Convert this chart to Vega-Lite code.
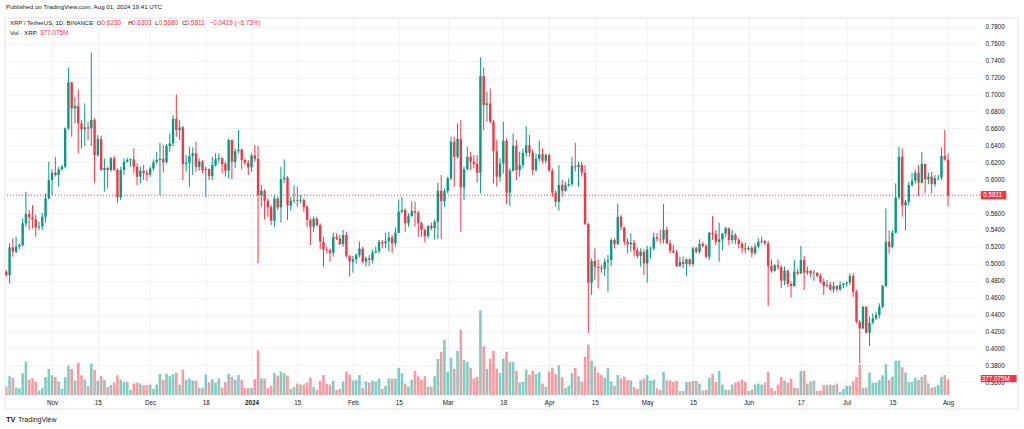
{
  "$schema": "https://vega.github.io/schema/vega-lite/v6.json",
  "width": 975,
  "height": 377,
  "autosize": {"type": "none"},
  "padding": {"left": 5, "top": 18, "right": 44, "bottom": 34},
  "background": "#ffffff",
  "config": {"view": {"stroke": null}, "font": "Liberation Sans"},
  "data": {
    "values": [
      {"t":"2023-10-18","o":0.4907,"h":0.4927,"l":0.4848,"c":0.4867,"v":200},
      {"t":"2023-10-19","o":0.4867,"h":0.5241,"l":0.4769,"c":0.5194,"v":450},
      {"t":"2023-10-20","o":0.5194,"h":0.5300,"l":0.5084,"c":0.5143,"v":414},
      {"t":"2023-10-21","o":0.5143,"h":0.5320,"l":0.5123,"c":0.5202,"v":178},
      {"t":"2023-10-22","o":0.5202,"h":0.5241,"l":0.5170,"c":0.5221,"v":164},
      {"t":"2023-10-23","o":0.5221,"h":0.5537,"l":0.5202,"c":0.5478,"v":521},
      {"t":"2023-10-24","o":0.5478,"h":0.5852,"l":0.5438,"c":0.5588,"v":793},
      {"t":"2023-10-25","o":0.5588,"h":0.5635,"l":0.5399,"c":0.5549,"v":364},
      {"t":"2023-10-26","o":0.5549,"h":0.5694,"l":0.5418,"c":0.5525,"v":400},
      {"t":"2023-10-27","o":0.5525,"h":0.5580,"l":0.5320,"c":0.5430,"v":321},
      {"t":"2023-10-28","o":0.5430,"h":0.5497,"l":0.5399,"c":0.5440,"v":107},
      {"t":"2023-10-29","o":0.5440,"h":0.5604,"l":0.5399,"c":0.5556,"v":164},
      {"t":"2023-10-30","o":0.5556,"h":0.5832,"l":0.5486,"c":0.5773,"v":428},
      {"t":"2023-10-31","o":0.5773,"h":0.6206,"l":0.5761,"c":0.5990,"v":621},
      {"t":"2023-11-01","o":0.5990,"h":0.6115,"l":0.5812,"c":0.6076,"v":471},
      {"t":"2023-11-02","o":0.6076,"h":0.6265,"l":0.6029,"c":0.6049,"v":428},
      {"t":"2023-11-03","o":0.6049,"h":0.6147,"l":0.5911,"c":0.6115,"v":321},
      {"t":"2023-11-04","o":0.6115,"h":0.6167,"l":0.6100,"c":0.6147,"v":143},
      {"t":"2023-11-05","o":0.6147,"h":0.6612,"l":0.6127,"c":0.6600,"v":428},
      {"t":"2023-11-06","o":0.6600,"h":0.7320,"l":0.6580,"c":0.7143,"v":700},
      {"t":"2023-11-07","o":0.7143,"h":0.7150,"l":0.6501,"c":0.6836,"v":621},
      {"t":"2023-11-08","o":0.6836,"h":0.6974,"l":0.6659,"c":0.6864,"v":343},
      {"t":"2023-11-09","o":0.6864,"h":0.7060,"l":0.6304,"c":0.6659,"v":771},
      {"t":"2023-11-10","o":0.6659,"h":0.6698,"l":0.6364,"c":0.6588,"v":471},
      {"t":"2023-11-11","o":0.6588,"h":0.6895,"l":0.6391,"c":0.6612,"v":371},
      {"t":"2023-11-12","o":0.6612,"h":0.6678,"l":0.6462,"c":0.6600,"v":214},
      {"t":"2023-11-13","o":0.6600,"h":0.7494,"l":0.6391,"c":0.6698,"v":750},
      {"t":"2023-11-14","o":0.6698,"h":0.6718,"l":0.5958,"c":0.6285,"v":600},
      {"t":"2023-11-15","o":0.6285,"h":0.6521,"l":0.6265,"c":0.6474,"v":343},
      {"t":"2023-11-16","o":0.6474,"h":0.6513,"l":0.6100,"c":0.6108,"v":450},
      {"t":"2023-11-17","o":0.6108,"h":0.6245,"l":0.5852,"c":0.6131,"v":364},
      {"t":"2023-11-18","o":0.6131,"h":0.6147,"l":0.5891,"c":0.6108,"v":193},
      {"t":"2023-11-19","o":0.6108,"h":0.6265,"l":0.6088,"c":0.6245,"v":236},
      {"t":"2023-11-20","o":0.6245,"h":0.6273,"l":0.6100,"c":0.6108,"v":300},
      {"t":"2023-11-21","o":0.6108,"h":0.6127,"l":0.5722,"c":0.5785,"v":471},
      {"t":"2023-11-22","o":0.5785,"h":0.6147,"l":0.5753,"c":0.6108,"v":364},
      {"t":"2023-11-23","o":0.6108,"h":0.6245,"l":0.6049,"c":0.6206,"v":307},
      {"t":"2023-11-24","o":0.6206,"h":0.6253,"l":0.6194,"c":0.6226,"v":307},
      {"t":"2023-11-25","o":0.6226,"h":0.6245,"l":0.6147,"c":0.6234,"v":121},
      {"t":"2023-11-26","o":0.6234,"h":0.6364,"l":0.6068,"c":0.6147,"v":271},
      {"t":"2023-11-27","o":0.6147,"h":0.6186,"l":0.5930,"c":0.6029,"v":293},
      {"t":"2023-11-28","o":0.6029,"h":0.6147,"l":0.5950,"c":0.6100,"v":271},
      {"t":"2023-11-29","o":0.6100,"h":0.6167,"l":0.5990,"c":0.6076,"v":236},
      {"t":"2023-11-30","o":0.6076,"h":0.6108,"l":0.5982,"c":0.6052,"v":236},
      {"t":"2023-12-01","o":0.6052,"h":0.6147,"l":0.6029,"c":0.6127,"v":250},
      {"t":"2023-12-02","o":0.6127,"h":0.6233,"l":0.6100,"c":0.6200,"v":143},
      {"t":"2023-12-03","o":0.6200,"h":0.6324,"l":0.6186,"c":0.6226,"v":250},
      {"t":"2023-12-04","o":0.6226,"h":0.6430,"l":0.5813,"c":0.6241,"v":500},
      {"t":"2023-12-05","o":0.6241,"h":0.6403,"l":0.6076,"c":0.6200,"v":364},
      {"t":"2023-12-06","o":0.6200,"h":0.6415,"l":0.6186,"c":0.6391,"v":507},
      {"t":"2023-12-07","o":0.6391,"h":0.6540,"l":0.6324,"c":0.6423,"v":450},
      {"t":"2023-12-08","o":0.6423,"h":0.6757,"l":0.6391,"c":0.6714,"v":500},
      {"t":"2023-12-09","o":0.6714,"h":0.7001,"l":0.6501,"c":0.6580,"v":535},
      {"t":"2023-12-10","o":0.6580,"h":0.6698,"l":0.6462,"c":0.6612,"v":250},
      {"t":"2023-12-11","o":0.6612,"h":0.6630,"l":0.5990,"c":0.6179,"v":607},
      {"t":"2023-12-12","o":0.6179,"h":0.6285,"l":0.6088,"c":0.6194,"v":364},
      {"t":"2023-12-13","o":0.6194,"h":0.6383,"l":0.5911,"c":0.6273,"v":393},
      {"t":"2023-12-14","o":0.6273,"h":0.6375,"l":0.6049,"c":0.6305,"v":343},
      {"t":"2023-12-15","o":0.6305,"h":0.6442,"l":0.6088,"c":0.6147,"v":343},
      {"t":"2023-12-16","o":0.6147,"h":0.6245,"l":0.6100,"c":0.6206,"v":164},
      {"t":"2023-12-17","o":0.6206,"h":0.6226,"l":0.6068,"c":0.6108,"v":178},
      {"t":"2023-12-18","o":0.6108,"h":0.6147,"l":0.5785,"c":0.6120,"v":486},
      {"t":"2023-12-19","o":0.6120,"h":0.6127,"l":0.5990,"c":0.6037,"v":307},
      {"t":"2023-12-20","o":0.6037,"h":0.6265,"l":0.5990,"c":0.6167,"v":378},
      {"t":"2023-12-21","o":0.6167,"h":0.6304,"l":0.6147,"c":0.6237,"v":293},
      {"t":"2023-12-22","o":0.6237,"h":0.6304,"l":0.6194,"c":0.6250,"v":393},
      {"t":"2023-12-23","o":0.6250,"h":0.6257,"l":0.6068,"c":0.6179,"v":178},
      {"t":"2023-12-24","o":0.6179,"h":0.6206,"l":0.6029,"c":0.6100,"v":307},
      {"t":"2023-12-25","o":0.6100,"h":0.6482,"l":0.6009,"c":0.6462,"v":507},
      {"t":"2023-12-26","o":0.6462,"h":0.6470,"l":0.5998,"c":0.6206,"v":436},
      {"t":"2023-12-27","o":0.6206,"h":0.6364,"l":0.6127,"c":0.6330,"v":364},
      {"t":"2023-12-28","o":0.6330,"h":0.6580,"l":0.6304,"c":0.6350,"v":478},
      {"t":"2023-12-29","o":0.6350,"h":0.6364,"l":0.6115,"c":0.6226,"v":357},
      {"t":"2023-12-30","o":0.6226,"h":0.6245,"l":0.6167,"c":0.6195,"v":164},
      {"t":"2023-12-31","o":0.6195,"h":0.6226,"l":0.6049,"c":0.6140,"v":164},
      {"t":"2024-01-01","o":0.6140,"h":0.6304,"l":0.6088,"c":0.6280,"v":164},
      {"t":"2024-01-02","o":0.6280,"h":0.6403,"l":0.6206,"c":0.6240,"v":378},
      {"t":"2024-01-03","o":0.6240,"h":0.6391,"l":0.5005,"c":0.5812,"v":1071},
      {"t":"2024-01-04","o":0.5812,"h":0.5930,"l":0.5675,"c":0.5863,"v":393},
      {"t":"2024-01-05","o":0.5863,"h":0.5880,"l":0.5525,"c":0.5745,"v":393},
      {"t":"2024-01-06","o":0.5745,"h":0.5773,"l":0.5556,"c":0.5670,"v":164},
      {"t":"2024-01-07","o":0.5670,"h":0.5694,"l":0.5455,"c":0.5510,"v":221},
      {"t":"2024-01-08","o":0.5510,"h":0.5812,"l":0.5438,"c":0.5770,"v":521},
      {"t":"2024-01-09","o":0.5770,"h":0.5793,"l":0.5635,"c":0.5667,"v":464},
      {"t":"2024-01-10","o":0.5667,"h":0.6147,"l":0.5486,"c":0.6000,"v":557},
      {"t":"2024-01-11","o":0.6000,"h":0.6234,"l":0.5950,"c":0.6017,"v":521},
      {"t":"2024-01-12","o":0.6017,"h":0.6037,"l":0.5517,"c":0.5686,"v":464},
      {"t":"2024-01-13","o":0.5686,"h":0.5793,"l":0.5627,"c":0.5745,"v":143},
      {"t":"2024-01-14","o":0.5745,"h":0.5927,"l":0.5714,"c":0.5753,"v":193},
      {"t":"2024-01-15","o":0.5753,"h":0.5911,"l":0.5675,"c":0.5745,"v":271},
      {"t":"2024-01-16","o":0.5745,"h":0.5812,"l":0.5714,"c":0.5753,"v":250},
      {"t":"2024-01-17","o":0.5753,"h":0.5773,"l":0.5616,"c":0.5670,"v":250},
      {"t":"2024-01-18","o":0.5670,"h":0.5694,"l":0.5438,"c":0.5517,"v":293},
      {"t":"2024-01-19","o":0.5517,"h":0.5537,"l":0.5222,"c":0.5438,"v":414},
      {"t":"2024-01-20","o":0.5438,"h":0.5556,"l":0.5379,"c":0.5533,"v":193},
      {"t":"2024-01-21","o":0.5533,"h":0.5549,"l":0.5438,"c":0.5458,"v":121},
      {"t":"2024-01-22","o":0.5458,"h":0.5478,"l":0.5171,"c":0.5261,"v":343},
      {"t":"2024-01-23","o":0.5261,"h":0.5320,"l":0.4966,"c":0.5170,"v":478},
      {"t":"2024-01-24","o":0.5170,"h":0.5202,"l":0.5123,"c":0.5162,"v":264},
      {"t":"2024-01-25","o":0.5162,"h":0.5183,"l":0.5025,"c":0.5130,"v":250},
      {"t":"2024-01-26","o":0.5130,"h":0.5368,"l":0.5084,"c":0.5320,"v":343},
      {"t":"2024-01-27","o":0.5320,"h":0.5360,"l":0.5281,"c":0.5300,"v":121},
      {"t":"2024-01-28","o":0.5300,"h":0.5340,"l":0.5222,"c":0.5234,"v":143},
      {"t":"2024-01-29","o":0.5234,"h":0.5399,"l":0.5202,"c":0.5340,"v":321},
      {"t":"2024-01-30","o":0.5340,"h":0.5379,"l":0.5076,"c":0.5090,"v":557},
      {"t":"2024-01-31","o":0.5090,"h":0.5104,"l":0.4848,"c":0.5025,"v":486},
      {"t":"2024-02-01","o":0.5025,"h":0.5092,"l":0.4895,"c":0.5053,"v":343},
      {"t":"2024-02-02","o":0.5053,"h":0.5123,"l":0.5005,"c":0.5104,"v":364},
      {"t":"2024-02-03","o":0.5104,"h":0.5261,"l":0.5076,"c":0.5180,"v":478},
      {"t":"2024-02-04","o":0.5180,"h":0.5202,"l":0.5005,"c":0.5025,"v":164},
      {"t":"2024-02-05","o":0.5025,"h":0.5084,"l":0.4966,"c":0.5064,"v":321},
      {"t":"2024-02-06","o":0.5064,"h":0.5104,"l":0.4974,"c":0.5045,"v":293},
      {"t":"2024-02-07","o":0.5045,"h":0.5163,"l":0.5005,"c":0.5135,"v":343},
      {"t":"2024-02-08","o":0.5135,"h":0.5202,"l":0.5123,"c":0.5150,"v":321},
      {"t":"2024-02-09","o":0.5150,"h":0.5281,"l":0.5123,"c":0.5257,"v":393},
      {"t":"2024-02-10","o":0.5257,"h":0.5281,"l":0.5183,"c":0.5241,"v":143},
      {"t":"2024-02-11","o":0.5241,"h":0.5367,"l":0.5183,"c":0.5265,"v":221},
      {"t":"2024-02-12","o":0.5265,"h":0.5379,"l":0.5143,"c":0.5312,"v":393},
      {"t":"2024-02-13","o":0.5312,"h":0.5340,"l":0.5131,"c":0.5241,"v":393},
      {"t":"2024-02-14","o":0.5241,"h":0.5430,"l":0.5202,"c":0.5367,"v":393},
      {"t":"2024-02-15","o":0.5367,"h":0.5761,"l":0.5360,"c":0.5615,"v":650},
      {"t":"2024-02-16","o":0.5615,"h":0.5793,"l":0.5596,"c":0.5635,"v":521},
      {"t":"2024-02-17","o":0.5635,"h":0.5655,"l":0.5379,"c":0.5480,"v":271},
      {"t":"2024-02-18","o":0.5480,"h":0.5596,"l":0.5438,"c":0.5564,"v":200},
      {"t":"2024-02-19","o":0.5564,"h":0.5734,"l":0.5556,"c":0.5623,"v":364},
      {"t":"2024-02-20","o":0.5623,"h":0.5734,"l":0.5438,"c":0.5604,"v":578},
      {"t":"2024-02-21","o":0.5604,"h":0.5627,"l":0.5320,"c":0.5480,"v":450},
      {"t":"2024-02-22","o":0.5480,"h":0.5497,"l":0.5320,"c":0.5399,"v":364},
      {"t":"2024-02-23","o":0.5399,"h":0.5418,"l":0.5253,"c":0.5328,"v":450},
      {"t":"2024-02-24","o":0.5328,"h":0.5458,"l":0.5301,"c":0.5446,"v":200},
      {"t":"2024-02-25","o":0.5446,"h":0.5486,"l":0.5399,"c":0.5419,"v":200},
      {"t":"2024-02-26","o":0.5419,"h":0.5517,"l":0.5289,"c":0.5497,"v":450},
      {"t":"2024-02-27","o":0.5497,"h":0.5958,"l":0.5293,"c":0.5863,"v":857},
      {"t":"2024-02-28","o":0.5863,"h":0.6049,"l":0.5293,"c":0.5740,"v":1035},
      {"t":"2024-02-29","o":0.5740,"h":0.5891,"l":0.5675,"c":0.5860,"v":1321},
      {"t":"2024-03-01","o":0.5860,"h":0.6029,"l":0.5832,"c":0.6010,"v":557},
      {"t":"2024-03-02","o":0.6010,"h":0.6501,"l":0.5990,"c":0.6442,"v":893},
      {"t":"2024-03-03","o":0.6442,"h":0.6501,"l":0.5911,"c":0.6265,"v":628},
      {"t":"2024-03-04","o":0.6265,"h":0.6659,"l":0.6245,"c":0.6474,"v":1057},
      {"t":"2024-03-05","o":0.6474,"h":0.6698,"l":0.5379,"c":0.5903,"v":1557},
      {"t":"2024-03-06","o":0.5903,"h":0.6147,"l":0.5753,"c":0.6120,"v":836},
      {"t":"2024-03-07","o":0.6120,"h":0.6383,"l":0.6108,"c":0.6265,"v":786},
      {"t":"2024-03-08","o":0.6265,"h":0.6324,"l":0.6108,"c":0.6206,"v":650},
      {"t":"2024-03-09","o":0.6206,"h":0.6285,"l":0.6127,"c":0.6180,"v":393},
      {"t":"2024-03-10","o":0.6180,"h":0.6285,"l":0.5958,"c":0.6076,"v":428},
      {"t":"2024-03-11","o":0.6076,"h":0.7438,"l":0.5832,"c":0.7218,"v":2021},
      {"t":"2024-03-12","o":0.7218,"h":0.7320,"l":0.6580,"c":0.6875,"v":1164},
      {"t":"2024-03-13","o":0.6875,"h":0.7033,"l":0.6679,"c":0.6895,"v":628},
      {"t":"2024-03-14","o":0.6895,"h":0.7072,"l":0.6659,"c":0.6680,"v":864},
      {"t":"2024-03-15","o":0.6680,"h":0.6698,"l":0.5950,"c":0.6330,"v":1050},
      {"t":"2024-03-16","o":0.6330,"h":0.6462,"l":0.5911,"c":0.6029,"v":628},
      {"t":"2024-03-17","o":0.6029,"h":0.6245,"l":0.5970,"c":0.6186,"v":521},
      {"t":"2024-03-18","o":0.6186,"h":0.6680,"l":0.6068,"c":0.6454,"v":864},
      {"t":"2024-03-19","o":0.6454,"h":0.6482,"l":0.5706,"c":0.5840,"v":1035},
      {"t":"2024-03-20","o":0.5840,"h":0.6127,"l":0.5682,"c":0.6100,"v":793},
      {"t":"2024-03-21","o":0.6100,"h":0.6540,"l":0.6088,"c":0.6395,"v":793},
      {"t":"2024-03-22","o":0.6395,"h":0.6462,"l":0.5990,"c":0.6108,"v":578},
      {"t":"2024-03-23","o":0.6108,"h":0.6324,"l":0.6029,"c":0.6167,"v":293},
      {"t":"2024-03-24","o":0.6167,"h":0.6364,"l":0.6127,"c":0.6310,"v":307},
      {"t":"2024-03-25","o":0.6310,"h":0.6627,"l":0.6265,"c":0.6399,"v":607},
      {"t":"2024-03-26","o":0.6399,"h":0.6521,"l":0.6265,"c":0.6312,"v":486},
      {"t":"2024-03-27","o":0.6312,"h":0.6344,"l":0.6049,"c":0.6108,"v":578},
      {"t":"2024-03-28","o":0.6108,"h":0.6304,"l":0.6088,"c":0.6240,"v":500},
      {"t":"2024-03-29","o":0.6240,"h":0.6454,"l":0.6206,"c":0.6293,"v":543},
      {"t":"2024-03-30","o":0.6293,"h":0.6364,"l":0.6186,"c":0.6218,"v":271},
      {"t":"2024-03-31","o":0.6218,"h":0.6304,"l":0.6186,"c":0.6285,"v":193},
      {"t":"2024-04-01","o":0.6285,"h":0.6304,"l":0.6088,"c":0.6100,"v":557},
      {"t":"2024-04-02","o":0.6100,"h":0.6127,"l":0.5793,"c":0.5840,"v":650},
      {"t":"2024-04-03","o":0.5840,"h":0.5871,"l":0.5675,"c":0.5733,"v":493},
      {"t":"2024-04-04","o":0.5733,"h":0.6167,"l":0.5627,"c":0.5930,"v":707},
      {"t":"2024-04-05","o":0.5930,"h":0.5990,"l":0.5793,"c":0.5863,"v":428},
      {"t":"2024-04-06","o":0.5863,"h":0.5970,"l":0.5852,"c":0.5930,"v":164},
      {"t":"2024-04-07","o":0.5930,"h":0.6009,"l":0.5911,"c":0.5942,"v":221},
      {"t":"2024-04-08","o":0.5942,"h":0.6265,"l":0.5919,"c":0.6155,"v":521},
      {"t":"2024-04-09","o":0.6155,"h":0.6430,"l":0.6088,"c":0.6143,"v":650},
      {"t":"2024-04-10","o":0.6143,"h":0.6206,"l":0.5911,"c":0.6167,"v":450},
      {"t":"2024-04-11","o":0.6167,"h":0.6210,"l":0.6029,"c":0.6076,"v":321},
      {"t":"2024-04-12","o":0.6076,"h":0.6167,"l":0.5458,"c":0.5470,"v":907},
      {"t":"2024-04-13","o":0.5470,"h":0.5486,"l":0.4186,"c":0.4777,"v":1200},
      {"t":"2024-04-14","o":0.4777,"h":0.5064,"l":0.4631,"c":0.5033,"v":821},
      {"t":"2024-04-15","o":0.5033,"h":0.5182,"l":0.4808,"c":0.4966,"v":678},
      {"t":"2024-04-16","o":0.4966,"h":0.5045,"l":0.4710,"c":0.4950,"v":535},
      {"t":"2024-04-17","o":0.4950,"h":0.4986,"l":0.4895,"c":0.4942,"v":486},
      {"t":"2024-04-18","o":0.4942,"h":0.5064,"l":0.4856,"c":0.5025,"v":414},
      {"t":"2024-04-19","o":0.5025,"h":0.5104,"l":0.4670,"c":0.5045,"v":650},
      {"t":"2024-04-20","o":0.5045,"h":0.5301,"l":0.4974,"c":0.5281,"v":321},
      {"t":"2024-04-21","o":0.5281,"h":0.5301,"l":0.5182,"c":0.5234,"v":214},
      {"t":"2024-04-22","o":0.5234,"h":0.5714,"l":0.5222,"c":0.5556,"v":478},
      {"t":"2024-04-23","o":0.5556,"h":0.5576,"l":0.5399,"c":0.5430,"v":393},
      {"t":"2024-04-24","o":0.5430,"h":0.5438,"l":0.5222,"c":0.5261,"v":436},
      {"t":"2024-04-25","o":0.5261,"h":0.5301,"l":0.5123,"c":0.5230,"v":364},
      {"t":"2024-04-26","o":0.5230,"h":0.5360,"l":0.5143,"c":0.5250,"v":350},
      {"t":"2024-04-27","o":0.5250,"h":0.5281,"l":0.5084,"c":0.5160,"v":193},
      {"t":"2024-04-28","o":0.5160,"h":0.5194,"l":0.5064,"c":0.5092,"v":143},
      {"t":"2024-04-29","o":0.5092,"h":0.5183,"l":0.4966,"c":0.5143,"v":350},
      {"t":"2024-04-30","o":0.5143,"h":0.5171,"l":0.4867,"c":0.5005,"v":393},
      {"t":"2024-05-01","o":0.5005,"h":0.5210,"l":0.4777,"c":0.5170,"v":478},
      {"t":"2024-05-02","o":0.5170,"h":0.5202,"l":0.5064,"c":0.5180,"v":343},
      {"t":"2024-05-03","o":0.5180,"h":0.5367,"l":0.5163,"c":0.5312,"v":357},
      {"t":"2024-05-04","o":0.5312,"h":0.5360,"l":0.5261,"c":0.5293,"v":164},
      {"t":"2024-05-05","o":0.5293,"h":0.5399,"l":0.5241,"c":0.5288,"v":121},
      {"t":"2024-05-06","o":0.5288,"h":0.5706,"l":0.5241,"c":0.5400,"v":557},
      {"t":"2024-05-07","o":0.5400,"h":0.5438,"l":0.5233,"c":0.5241,"v":350},
      {"t":"2024-05-08","o":0.5241,"h":0.5281,"l":0.5123,"c":0.5155,"v":350},
      {"t":"2024-05-09","o":0.5155,"h":0.5222,"l":0.5123,"c":0.5135,"v":307},
      {"t":"2024-05-10","o":0.5135,"h":0.5163,"l":0.4966,"c":0.4973,"v":336},
      {"t":"2024-05-11","o":0.4973,"h":0.5084,"l":0.4958,"c":0.5020,"v":93},
      {"t":"2024-05-12","o":0.5020,"h":0.5084,"l":0.4946,"c":0.4997,"v":93},
      {"t":"2024-05-13","o":0.4997,"h":0.5064,"l":0.4856,"c":0.5053,"v":307},
      {"t":"2024-05-14","o":0.5053,"h":0.5064,"l":0.4970,"c":0.4997,"v":307},
      {"t":"2024-05-15","o":0.4997,"h":0.5202,"l":0.4966,"c":0.5183,"v":336},
      {"t":"2024-05-16","o":0.5183,"h":0.5202,"l":0.5123,"c":0.5143,"v":336},
      {"t":"2024-05-17","o":0.5143,"h":0.5289,"l":0.5123,"c":0.5234,"v":271},
      {"t":"2024-05-18","o":0.5234,"h":0.5261,"l":0.5194,"c":0.5210,"v":107},
      {"t":"2024-05-19","o":0.5210,"h":0.5233,"l":0.5064,"c":0.5084,"v":121},
      {"t":"2024-05-20","o":0.5084,"h":0.5379,"l":0.5045,"c":0.5367,"v":414},
      {"t":"2024-05-21","o":0.5367,"h":0.5564,"l":0.5281,"c":0.5352,"v":500},
      {"t":"2024-05-22","o":0.5352,"h":0.5399,"l":0.5222,"c":0.5260,"v":307},
      {"t":"2024-05-23","o":0.5260,"h":0.5486,"l":0.5025,"c":0.5288,"v":578},
      {"t":"2024-05-24","o":0.5288,"h":0.5360,"l":0.5163,"c":0.5359,"v":250},
      {"t":"2024-05-25","o":0.5359,"h":0.5438,"l":0.5320,"c":0.5420,"v":128},
      {"t":"2024-05-26","o":0.5420,"h":0.5430,"l":0.5222,"c":0.5281,"v":121},
      {"t":"2024-05-27","o":0.5281,"h":0.5399,"l":0.5241,"c":0.5340,"v":250},
      {"t":"2024-05-28","o":0.5340,"h":0.5360,"l":0.5233,"c":0.5281,"v":293},
      {"t":"2024-05-29","o":0.5281,"h":0.5301,"l":0.5183,"c":0.5234,"v":321},
      {"t":"2024-05-30","o":0.5234,"h":0.5261,"l":0.5123,"c":0.5182,"v":364},
      {"t":"2024-05-31","o":0.5182,"h":0.5249,"l":0.5123,"c":0.5170,"v":307},
      {"t":"2024-06-01","o":0.5170,"h":0.5210,"l":0.5155,"c":0.5186,"v":93},
      {"t":"2024-06-02","o":0.5186,"h":0.5210,"l":0.5076,"c":0.5130,"v":128},
      {"t":"2024-06-03","o":0.5130,"h":0.5241,"l":0.5104,"c":0.5202,"v":250},
      {"t":"2024-06-04","o":0.5202,"h":0.5301,"l":0.5183,"c":0.5260,"v":271},
      {"t":"2024-06-05","o":0.5260,"h":0.5320,"l":0.5241,"c":0.5269,"v":250},
      {"t":"2024-06-06","o":0.5269,"h":0.5281,"l":0.5222,"c":0.5241,"v":293},
      {"t":"2024-06-07","o":0.5241,"h":0.5273,"l":0.4501,"c":0.4974,"v":557},
      {"t":"2024-06-08","o":0.4974,"h":0.5053,"l":0.4895,"c":0.4918,"v":164},
      {"t":"2024-06-09","o":0.4918,"h":0.4997,"l":0.4907,"c":0.4982,"v":93},
      {"t":"2024-06-10","o":0.4982,"h":0.5053,"l":0.4927,"c":0.4958,"v":250},
      {"t":"2024-06-11","o":0.4958,"h":0.4986,"l":0.4710,"c":0.4801,"v":436},
      {"t":"2024-06-12","o":0.4801,"h":0.4966,"l":0.4749,"c":0.4919,"v":343},
      {"t":"2024-06-13","o":0.4919,"h":0.4934,"l":0.4730,"c":0.4761,"v":293},
      {"t":"2024-06-14","o":0.4761,"h":0.4789,"l":0.4604,"c":0.4737,"v":393},
      {"t":"2024-06-15","o":0.4737,"h":0.5045,"l":0.4730,"c":0.4907,"v":178},
      {"t":"2024-06-16","o":0.4907,"h":0.4934,"l":0.4867,"c":0.4887,"v":164},
      {"t":"2024-06-17","o":0.4887,"h":0.5210,"l":0.4879,"c":0.5045,"v":578},
      {"t":"2024-06-18","o":0.5045,"h":0.5092,"l":0.4690,"c":0.4895,"v":578},
      {"t":"2024-06-19","o":0.4895,"h":0.4966,"l":0.4868,"c":0.4915,"v":271},
      {"t":"2024-06-20","o":0.4915,"h":0.4927,"l":0.4840,"c":0.4887,"v":321},
      {"t":"2024-06-21","o":0.4887,"h":0.4927,"l":0.4800,"c":0.4895,"v":343},
      {"t":"2024-06-22","o":0.4895,"h":0.4899,"l":0.4840,"c":0.4856,"v":93},
      {"t":"2024-06-23","o":0.4856,"h":0.4887,"l":0.4769,"c":0.4789,"v":107},
      {"t":"2024-06-24","o":0.4789,"h":0.4828,"l":0.4631,"c":0.4737,"v":236},
      {"t":"2024-06-25","o":0.4737,"h":0.4808,"l":0.4721,"c":0.4749,"v":236},
      {"t":"2024-06-26","o":0.4749,"h":0.4789,"l":0.4682,"c":0.4698,"v":250},
      {"t":"2024-06-27","o":0.4698,"h":0.4789,"l":0.4659,"c":0.4737,"v":236},
      {"t":"2024-06-28","o":0.4737,"h":0.4749,"l":0.4680,"c":0.4698,"v":271},
      {"t":"2024-06-29","o":0.4698,"h":0.4789,"l":0.4682,"c":0.4749,"v":71},
      {"t":"2024-06-30","o":0.4749,"h":0.4777,"l":0.4710,"c":0.4765,"v":150},
      {"t":"2024-07-01","o":0.4765,"h":0.4789,"l":0.4730,"c":0.4781,"v":214},
      {"t":"2024-07-02","o":0.4781,"h":0.4887,"l":0.4749,"c":0.4856,"v":221},
      {"t":"2024-07-03","o":0.4856,"h":0.4887,"l":0.4604,"c":0.4670,"v":321},
      {"t":"2024-07-04","o":0.4670,"h":0.4690,"l":0.4297,"c":0.4316,"v":436},
      {"t":"2024-07-05","o":0.4316,"h":0.4336,"l":0.3824,"c":0.4237,"v":721},
      {"t":"2024-07-06","o":0.4237,"h":0.4501,"l":0.4226,"c":0.4493,"v":164},
      {"t":"2024-07-07","o":0.4493,"h":0.4501,"l":0.4178,"c":0.4186,"v":178},
      {"t":"2024-07-08","o":0.4186,"h":0.4375,"l":0.4029,"c":0.4304,"v":535},
      {"t":"2024-07-09","o":0.4304,"h":0.4415,"l":0.4289,"c":0.4355,"v":293},
      {"t":"2024-07-10","o":0.4355,"h":0.4435,"l":0.4336,"c":0.4395,"v":293},
      {"t":"2024-07-11","o":0.4395,"h":0.4533,"l":0.4356,"c":0.4493,"v":357},
      {"t":"2024-07-12","o":0.4493,"h":0.4749,"l":0.4474,"c":0.4737,"v":471},
      {"t":"2024-07-13","o":0.4737,"h":0.5655,"l":0.4730,"c":0.5260,"v":736},
      {"t":"2024-07-14","o":0.5260,"h":0.5392,"l":0.5123,"c":0.5200,"v":357},
      {"t":"2024-07-15","o":0.5200,"h":0.5399,"l":0.5183,"c":0.5367,"v":436},
      {"t":"2024-07-16","o":0.5367,"h":0.5950,"l":0.5360,"c":0.5785,"v":821},
      {"t":"2024-07-17","o":0.5785,"h":0.6383,"l":0.5761,"c":0.6265,"v":821},
      {"t":"2024-07-18","o":0.6265,"h":0.6364,"l":0.5556,"c":0.5690,"v":664},
      {"t":"2024-07-19","o":0.5690,"h":0.5753,"l":0.5399,"c":0.5733,"v":535},
      {"t":"2024-07-20","o":0.5733,"h":0.5970,"l":0.5694,"c":0.5931,"v":307},
      {"t":"2024-07-21","o":0.5931,"h":0.6076,"l":0.5911,"c":0.5982,"v":307},
      {"t":"2024-07-22","o":0.5982,"h":0.6108,"l":0.5950,"c":0.6076,"v":414},
      {"t":"2024-07-23","o":0.6076,"h":0.6167,"l":0.5800,"c":0.5958,"v":357},
      {"t":"2024-07-24","o":0.5958,"h":0.6324,"l":0.5950,"c":0.6179,"v":436},
      {"t":"2024-07-25","o":0.6179,"h":0.6186,"l":0.5832,"c":0.5998,"v":478},
      {"t":"2024-07-26","o":0.5998,"h":0.6076,"l":0.5942,"c":0.6030,"v":271},
      {"t":"2024-07-27","o":0.6030,"h":0.6088,"l":0.5832,"c":0.5942,"v":178},
      {"t":"2024-07-28","o":0.5942,"h":0.6049,"l":0.5911,"c":0.6010,"v":193},
      {"t":"2024-07-29","o":0.6010,"h":0.6049,"l":0.5990,"c":0.6017,"v":236},
      {"t":"2024-07-30","o":0.6017,"h":0.6375,"l":0.5990,"c":0.6273,"v":436},
      {"t":"2024-07-31","o":0.6273,"h":0.6580,"l":0.6218,"c":0.6230,"v":478},
      {"t":"2024-08-01","o":0.6230,"h":0.6303,"l":0.5680,"c":0.5811,"v":377.075}
    ]
  },
  "layer": [
    {
      "layer": [
        {
          "mark": {"type": "bar", "size": 2.6, "opacity": 0.5},
          "encoding": {
            "x": {"field": "t", "type": "temporal"},
            "y": {"field": "v", "type": "quantitative", "scale": {"domain": [0, 8080]}, "axis": null},
            "color": {"condition": {"test": "datum.c < datum.o", "value": "#f23645"}, "value": "#089981"}
          }
        },
        {
          "data": {"values": [{}]},
          "mark": {"type": "rect", "color": "#f23645"},
          "encoding": {
            "x": {"datum": {"year": 2024, "month": 8, "date": 11, "hours": 0, "minutes": 6, "utc": true}, "type": "temporal"},
            "x2": {"datum": {"year": 2024, "month": 8, "date": 22, "hours": 0, "minutes": 6, "utc": true}},
            "y": {"datum": 478, "type": "quantitative"},
            "y2": {"datum": 306}
          }
        },
        {
          "data": {"values": [{}]},
          "mark": {"type": "text", "align": "left", "baseline": "middle", "dx": 1, "fontSize": 6.3, "color": "#ffffff"},
          "encoding": {
            "x": {"datum": {"year": 2024, "month": 8, "date": 11, "hours": 0, "minutes": 6, "utc": true}, "type": "temporal"},
            "y": {"datum": 392, "type": "quantitative"},
            "text": {"value": "377.075M"}
          }
        }
      ]
    },
    {
      "layer": [
        {
          "data": {"values": [{}]},
          "mark": {"type": "rect", "fill": null, "stroke": "#e0e3eb", "strokeWidth": 1},
          "encoding": {
            "x": {"datum": {"year": 2023, "month": 10, "date": 17, "hours": 14, "minutes": 30, "utc": true}, "type": "temporal"},
            "x2": {"datum": {"year": 2024, "month": 8, "date": 22, "hours": 9, "minutes": 40, "utc": true}},
            "y": {"datum": 0.7904, "type": "quantitative"},
            "y2": {"datum": 0.3284}
          }
        },
        {
          "data": {"values": [{}]},
          "mark": {"type": "rule", "color": "#f23645", "strokeDash": [1, 2], "strokeWidth": 1},
          "encoding": {"y": {"datum": 0.5811, "type": "quantitative"}}
        },
        {
          "mark": {"type": "rule", "strokeWidth": 1},
          "encoding": {
            "x": {
              "field": "t",
              "type": "temporal",
              "scale": {
                "type": "utc",
                "padding": 0,
                "domain": [
                  {"year": 2023, "month": 10, "date": 17, "hours": 14, "minutes": 30, "utc": true},
                  {"year": 2024, "month": 8, "date": 10, "hours": 18, "minutes": 48, "utc": true}
                ]
              },
              "axis": {
                "title": null,
                "values": [
                  {"year": 2023, "month": 11, "date": 1, "utc": true},
                  {"year": 2023, "month": 11, "date": 15, "utc": true},
                  {"year": 2023, "month": 12, "date": 1, "utc": true},
                  {"year": 2023, "month": 12, "date": 18, "utc": true},
                  {"year": 2024, "month": 1, "date": 1, "utc": true},
                  {"year": 2024, "month": 1, "date": 15, "utc": true},
                  {"year": 2024, "month": 2, "date": 1, "utc": true},
                  {"year": 2024, "month": 2, "date": 15, "utc": true},
                  {"year": 2024, "month": 3, "date": 1, "utc": true},
                  {"year": 2024, "month": 3, "date": 18, "utc": true},
                  {"year": 2024, "month": 4, "date": 1, "utc": true},
                  {"year": 2024, "month": 4, "date": 15, "utc": true},
                  {"year": 2024, "month": 5, "date": 1, "utc": true},
                  {"year": 2024, "month": 5, "date": 15, "utc": true},
                  {"year": 2024, "month": 6, "date": 1, "utc": true},
                  {"year": 2024, "month": 6, "date": 17, "utc": true},
                  {"year": 2024, "month": 7, "date": 1, "utc": true},
                  {"year": 2024, "month": 7, "date": 15, "utc": true},
                  {"year": 2024, "month": 8, "date": 1, "utc": true}
                ],
                "tickCount": 40,
                "labelExpr": "utcdate(datum.value) == 1 ? (utcmonth(datum.value) == 0 ? utcFormat(datum.value, '%Y') : utcFormat(datum.value, '%b')) : utcFormat(datum.value, '%-d')",
                "labelFontWeight": {"condition": {"test": "utcmonth(datum.value) == 0 && utcdate(datum.value) == 1", "value": "bold"}, "value": "normal"},
                "grid": true,
                "gridColor": "#f0f3fa",
                "ticks": false,
                "domain": false,
                "labelFontSize": 6.3,
                "labelColor": "#131722",
                "labelPadding": 4,
                "labelFlush": false,
                "labelOverlap": false
              }
            },
            "y": {
              "field": "l",
              "type": "quantitative",
              "scale": {"domain": [0.345, 0.7904], "zero": false, "nice": false},
              "axis": {
                "title": null,
                "orient": "right",
                "values": [0.36, 0.38, 0.40, 0.42, 0.44, 0.46, 0.48, 0.50, 0.52, 0.54, 0.56, 0.60, 0.62, 0.64, 0.66, 0.68, 0.70, 0.72, 0.74, 0.76, 0.78],
                "tickCount": 40,
                "format": ".4f",
                "grid": true,
                "gridColor": "#f0f3fa",
                "ticks": false,
                "domain": false,
                "labelFontSize": 6.3,
                "labelColor": "#131722",
                "labelPadding": 5,
                "labelOverlap": false
              }
            },
            "y2": {"field": "h"},
            "color": {"condition": {"test": "datum.c < datum.o", "value": "#f23645"}, "value": "#089981"}
          }
        },
        {
          "mark": {"type": "bar", "size": 2.4},
          "encoding": {
            "x": {"field": "t", "type": "temporal"},
            "y": {"field": "o", "type": "quantitative", "title": null},
            "y2": {"field": "c"},
            "color": {"condition": {"test": "datum.c < datum.o", "value": "#f23645"}, "value": "#089981"}
          }
        },
        {
          "data": {"values": [{}]},
          "mark": {"type": "rect", "color": "#f23645"},
          "encoding": {
            "x": {"datum": {"year": 2024, "month": 8, "date": 11, "hours": 0, "minutes": 6, "utc": true}, "type": "temporal"},
            "x2": {"datum": {"year": 2024, "month": 8, "date": 18, "hours": 19, "minutes": 48, "utc": true}},
            "y": {"datum": 0.5860, "type": "quantitative"},
            "y2": {"datum": 0.5762}
          }
        },
        {
          "data": {"values": [{}]},
          "mark": {"type": "text", "align": "left", "baseline": "middle", "dx": 2.5, "fontSize": 6.3, "color": "#ffffff"},
          "encoding": {
            "x": {"datum": {"year": 2024, "month": 8, "date": 11, "hours": 0, "minutes": 6, "utc": true}, "type": "temporal"},
            "y": {"datum": 0.5811, "type": "quantitative"},
            "text": {"value": "0.5811"}
          }
        },
        {
          "data": {"values": [{}]},
          "mark": {"type": "text", "align": "left", "baseline": "middle", "dx": 1, "fontSize": 6.2, "color": "#131722"},
          "encoding": {
            "x": {"datum": {"year": 2023, "month": 10, "date": 17, "hours": 14, "minutes": 30, "utc": true}, "type": "temporal"},
            "y": {"datum": 0.8030, "type": "quantitative"},
            "text": {"value": "Published on TradingView.com, Aug 01, 2024 19:41 UTC"}
          }
        },
        {
          "data": {"values": [{}]},
          "mark": {"type": "text", "align": "left", "baseline": "middle", "dx": 5, "fontSize": 6, "color": "#131722"},
          "encoding": {
            "x": {"datum": {"year": 2023, "month": 10, "date": 17, "hours": 14, "minutes": 30, "utc": true}, "type": "temporal"},
            "y": {"datum": 0.7845, "type": "quantitative"},
            "text": {"value": "XRP / TetherUS, 1D, BINANCE"}
          }
        },
        {
          "data": {"values": [{}]},
          "mark": {"type": "text", "align": "left", "baseline": "middle", "dx": 91.5, "fontSize": 6.2, "color": "#131722"},
          "encoding": {
            "x": {"datum": {"year": 2023, "month": 10, "date": 17, "hours": 14, "minutes": 30, "utc": true}, "type": "temporal"},
            "y": {"datum": 0.7845, "type": "quantitative"},
            "text": {"value": "O"}
          }
        },
        {
          "data": {"values": [{}]},
          "mark": {"type": "text", "align": "left", "baseline": "middle", "dx": 96.5, "fontSize": 6.4, "color": "#f23645"},
          "encoding": {
            "x": {"datum": {"year": 2023, "month": 10, "date": 17, "hours": 14, "minutes": 30, "utc": true}, "type": "temporal"},
            "y": {"datum": 0.7845, "type": "quantitative"},
            "text": {"value": "0.6230"}
          }
        },
        {
          "data": {"values": [{}]},
          "mark": {"type": "text", "align": "left", "baseline": "middle", "dx": 123, "fontSize": 6.2, "color": "#131722"},
          "encoding": {
            "x": {"datum": {"year": 2023, "month": 10, "date": 17, "hours": 14, "minutes": 30, "utc": true}, "type": "temporal"},
            "y": {"datum": 0.7845, "type": "quantitative"},
            "text": {"value": "H"}
          }
        },
        {
          "data": {"values": [{}]},
          "mark": {"type": "text", "align": "left", "baseline": "middle", "dx": 127, "fontSize": 6.4, "color": "#f23645"},
          "encoding": {
            "x": {"datum": {"year": 2023, "month": 10, "date": 17, "hours": 14, "minutes": 30, "utc": true}, "type": "temporal"},
            "y": {"datum": 0.7845, "type": "quantitative"},
            "text": {"value": "0.6303"}
          }
        },
        {
          "data": {"values": [{}]},
          "mark": {"type": "text", "align": "left", "baseline": "middle", "dx": 150, "fontSize": 6.2, "color": "#131722"},
          "encoding": {
            "x": {"datum": {"year": 2023, "month": 10, "date": 17, "hours": 14, "minutes": 30, "utc": true}, "type": "temporal"},
            "y": {"datum": 0.7845, "type": "quantitative"},
            "text": {"value": "L"}
          }
        },
        {
          "data": {"values": [{}]},
          "mark": {"type": "text", "align": "left", "baseline": "middle", "dx": 153.5, "fontSize": 6.4, "color": "#f23645"},
          "encoding": {
            "x": {"datum": {"year": 2023, "month": 10, "date": 17, "hours": 14, "minutes": 30, "utc": true}, "type": "temporal"},
            "y": {"datum": 0.7845, "type": "quantitative"},
            "text": {"value": "0.5680"}
          }
        },
        {
          "data": {"values": [{}]},
          "mark": {"type": "text", "align": "left", "baseline": "middle", "dx": 177, "fontSize": 6.2, "color": "#131722"},
          "encoding": {
            "x": {"datum": {"year": 2023, "month": 10, "date": 17, "hours": 14, "minutes": 30, "utc": true}, "type": "temporal"},
            "y": {"datum": 0.7845, "type": "quantitative"},
            "text": {"value": "C"}
          }
        },
        {
          "data": {"values": [{}]},
          "mark": {"type": "text", "align": "left", "baseline": "middle", "dx": 180.5, "fontSize": 6.4, "color": "#f23645"},
          "encoding": {
            "x": {"datum": {"year": 2023, "month": 10, "date": 17, "hours": 14, "minutes": 30, "utc": true}, "type": "temporal"},
            "y": {"datum": 0.7845, "type": "quantitative"},
            "text": {"value": "0.5811"}
          }
        },
        {
          "data": {"values": [{}]},
          "mark": {"type": "text", "align": "left", "baseline": "middle", "dx": 204.5, "fontSize": 6.4, "color": "#f23645"},
          "encoding": {
            "x": {"datum": {"year": 2023, "month": 10, "date": 17, "hours": 14, "minutes": 30, "utc": true}, "type": "temporal"},
            "y": {"datum": 0.7845, "type": "quantitative"},
            "text": {"value": "−0.0419 (−6.73%)"}
          }
        },
        {
          "data": {"values": [{}]},
          "mark": {"type": "text", "align": "left", "baseline": "middle", "dx": 5, "fontSize": 6.2, "color": "#131722"},
          "encoding": {
            "x": {"datum": {"year": 2023, "month": 10, "date": 17, "hours": 14, "minutes": 30, "utc": true}, "type": "temporal"},
            "y": {"datum": 0.7730, "type": "quantitative"},
            "text": {"value": "Vol · XRP"}
          }
        },
        {
          "data": {"values": [{}]},
          "mark": {"type": "text", "align": "left", "baseline": "middle", "dx": 35, "fontSize": 6.4, "color": "#f23645"},
          "encoding": {
            "x": {"datum": {"year": 2023, "month": 10, "date": 17, "hours": 14, "minutes": 30, "utc": true}, "type": "temporal"},
            "y": {"datum": 0.7730, "type": "quantitative"},
            "text": {"value": "377.075M"}
          }
        },
        {
          "data": {"values": [{}]},
          "mark": {"type": "text", "align": "left", "baseline": "middle", "dx": 1, "fontSize": 7.5, "fontWeight": 900, "color": "#131722"},
          "encoding": {
            "x": {"datum": {"year": 2023, "month": 10, "date": 17, "hours": 14, "minutes": 30, "utc": true}, "type": "temporal"},
            "y": {"datum": 0.3160, "type": "quantitative"},
            "text": {"value": "TV"}
          }
        },
        {
          "data": {"values": [{}]},
          "mark": {"type": "text", "align": "left", "baseline": "middle", "dx": 13, "fontSize": 7, "color": "#131722"},
          "encoding": {
            "x": {"datum": {"year": 2023, "month": 10, "date": 17, "hours": 14, "minutes": 30, "utc": true}, "type": "temporal"},
            "y": {"datum": 0.3160, "type": "quantitative"},
            "text": {"value": "TradingView"}
          }
        }
      ]
    }
  ],
  "resolve": {"scale": {"y": "independent"}}
}
